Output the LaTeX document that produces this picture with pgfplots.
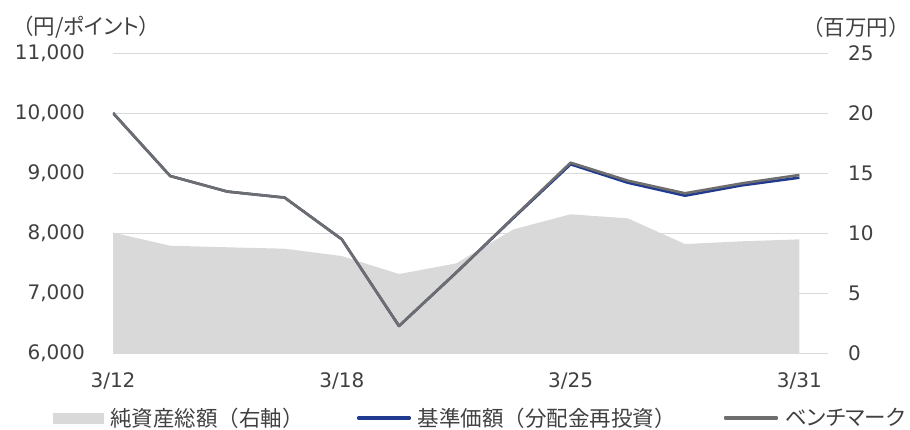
\documentclass[border=0pt]{standalone}
\usepackage{fontspec}
\setmainfont{DejaVu Sans}
\newfontfamily\cjk{Noto Sans CJK JP}
\newfontfamily\cjkp[RawFeature=+palt]{Noto Sans CJK JP}
\usepackage{pgfplots}
\pgfplotsset{compat=1.18}
\definecolor{txt}{HTML}{404040}
\definecolor{areagray}{HTML}{D9D9D9}
\definecolor{gridgray}{HTML}{D9D9D9}
\definecolor{navblue}{HTML}{1F3A8F}
\definecolor{benchgray}{HTML}{6E6E6E}
\newcommand{\numfont}{\fontsize{20bp}{24bp}\selectfont}
\newcommand{\jfont}{\cjk\fontsize{21.5bp}{25bp}\selectfont}
\newcommand{\jpfont}{\cjkp\fontsize{21.5bp}{25bp}\selectfont}

\begin{document}
\begin{tikzpicture}
\path[use as bounding box] (-113bp,-77bp) rectangle (797bp,353bp);
% back axis: net assets (right axis), grid
\begin{axis}[
  at={(0,0)}, anchor=south west,
  scale only axis, width=715bp, height=300bp,
  xmin=0, xmax=12.5, ymin=0, ymax=25,
  hide x axis,
  axis y line*=right,
  y axis line style={draw=none},
  ytick={0,5,10,15,20,25},
  major tick length=0pt,
  ymajorgrids, grid style={gridgray, line width=0.9bp},
  yticklabel style={font=\numfont, text=txt, anchor=west, inner sep=0pt, xshift=20bp},
  /pgf/number format/assume math mode=true,
]
\addplot[fill=areagray, draw=none] coordinates {
  (0,10.03) (1,8.94) (2,8.81) (3,8.69) (4,8.08) (5,6.58) (6,7.47)
  (7,10.30) (8,11.56) (9,11.22) (10,9.08) (11,9.31) (12,9.47)
} \closedcycle;
\end{axis}
% front axis: NAV and benchmark (left axis)
\begin{axis}[
  at={(0,0)}, anchor=south west,
  scale only axis, width=715bp, height=300bp,
  xmin=0, xmax=12.5, ymin=6000, ymax=11000,
  axis y line*=left, axis x line*=bottom,
  y axis line style={draw=none},
  x axis line style={draw=gridgray, line width=0.9bp, -},
  major tick length=0pt,
  ytick={6000,7000,8000,9000,10000,11000},
  xtick={0,4,8,12}, xticklabels={3/12,3/18,3/25,3/31},
  yticklabel style={font=\numfont, text=txt, anchor=east, inner sep=0pt, xshift=-28bp},
  xticklabel style={font=\numfont, text=txt, anchor=north, inner sep=0pt, yshift=-19bp},
  /pgf/number format/1000 sep={,},
  /pgf/number format/assume math mode=true,
  scaled y ticks=false,
  legend columns=3,
  legend style={
    at={(axis description cs:-0.0839,-0.2167)}, anchor=west,
    draw=none, fill=none, inner sep=0pt, outer sep=0pt,
    font=\jfont, text=txt,
    nodes={inner sep=0pt},
    /tikz/every odd column/.append style={column sep=7bp},
    /tikz/column 2/.style={column sep=53bp},
    /tikz/column 4/.style={column sep=48bp},
  },
]
\addlegendimage{legend image code/.code={\fill[areagray] (0bp,-5bp) rectangle (50bp,5bp);}}
\addlegendentry{純資産総額（右軸）}
\addplot[navblue, line width=2.6bp, line join=round,
  legend image code/.code={\fill[navblue] (0bp,-1.1bp) rectangle (51bp,1.1bp);}]
  coordinates {
  (0,10000) (1,8950) (2,8690) (3,8590) (4,7895) (5,6450) (6,7340)
  (7,8250) (8,9145) (9,8838) (10,8622) (11,8795) (12,8922)
};
\addlegendentry{基準価額（分配金再投資）}
\addplot[benchgray, line width=2.6bp, line join=round,
  legend image code/.code={\fill[benchgray] (0bp,-1.1bp) rectangle (52bp,1.1bp);}]
  coordinates {
  (0,10000) (1,8950) (2,8690) (3,8590) (4,7895) (5,6450) (6,7340)
  (7,8260) (8,9172) (9,8872) (10,8662) (11,8828) (12,8967)
};
\addlegendentry{{\jpfont ベンチマーク}}
\end{axis}
\node[anchor=west, inner sep=0pt, text=txt, font=\jfont] at (-101bp,326bp) {（円{\jpfont /ポイント}）};
\node[anchor=west, inner sep=0pt, text=txt, font=\jfont] at (689bp,326bp) {（百万円）};
\end{tikzpicture}
\end{document}
